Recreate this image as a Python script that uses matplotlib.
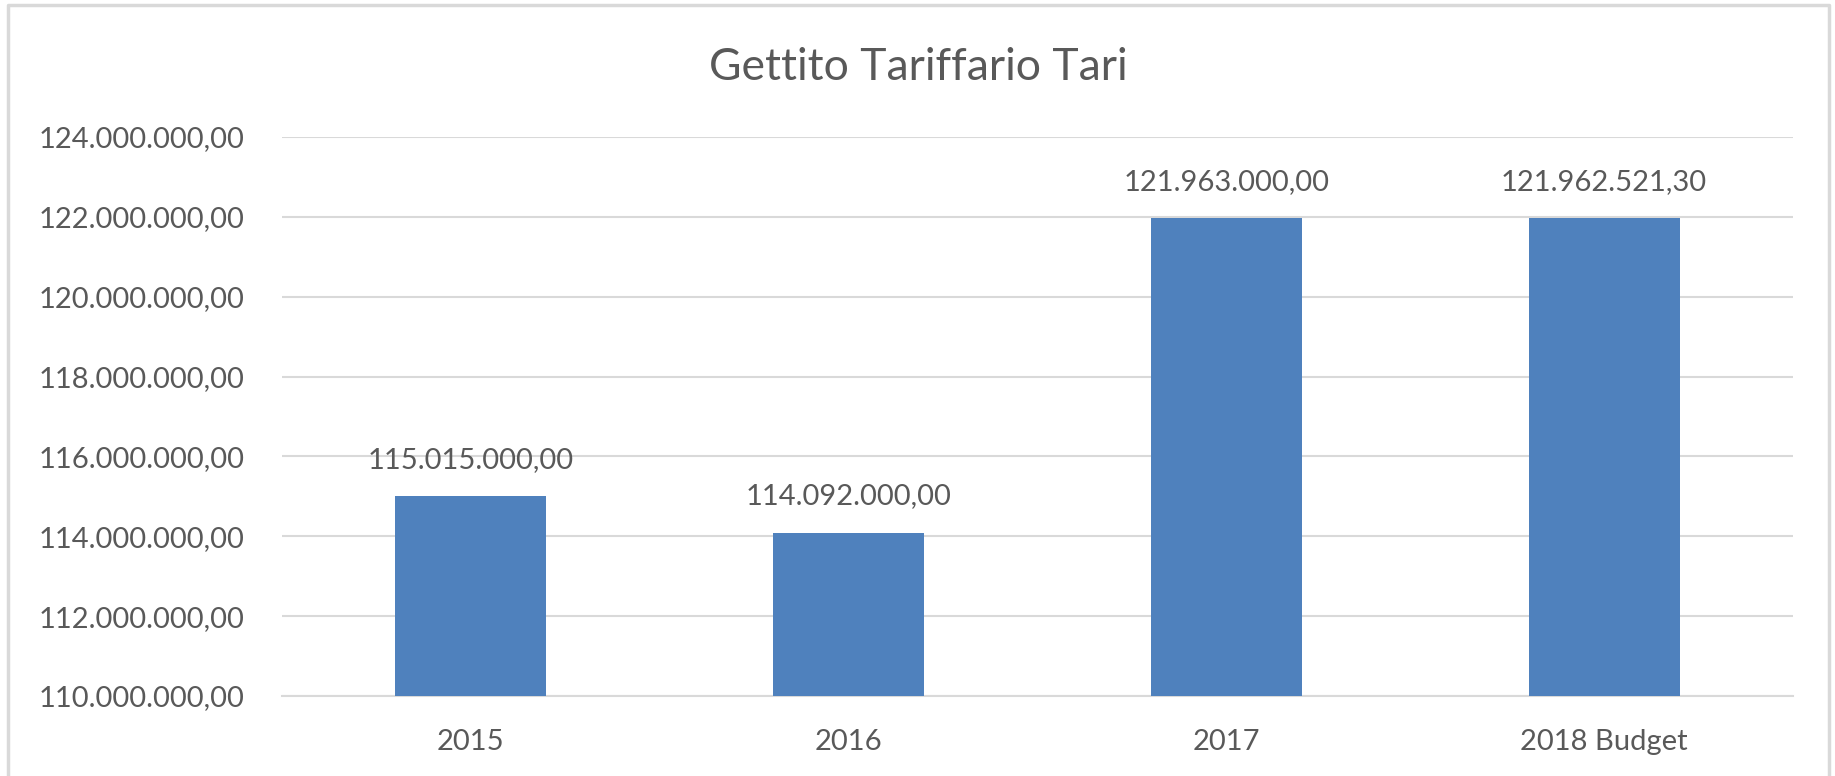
import matplotlib.pyplot as plt
from matplotlib.lines import Line2D

categories = ["2015", "2016", "2017", "2018 Budget"]
values = [115015000.00, 114092000.00, 121963000.00, 121962521.30]
y_ticks = [110000000, 112000000, 114000000, 116000000, 118000000,
           120000000, 122000000, 124000000]

TEXT = "#595959"
BAR = "#4F81BD"
GRID = "#D9D9D9"


def it_format(v):
    """Format a number the Italian way: 121.962.521,30"""
    s = f"{v:,.2f}"
    return s.replace(",", "X").replace(".", ",").replace("X", ".")


plt.rcParams['font.family'] = ['Lato', 'DejaVu Sans']

fig = plt.figure(figsize=(18.35, 7.76), dpi=100)
ax = fig.add_axes([0.1537, 0.1031, 0.8234, 0.7204])

x = range(len(categories))
bars = ax.bar(x, values, width=0.40, color=BAR, zorder=3)

ax.set_xlim(-0.5, len(categories) - 0.5)
ax.set_ylim(y_ticks[0], y_ticks[-1])
ax.set_yticks(y_ticks)
ax.set_yticklabels([it_format(t) for t in y_ticks])
ax.set_xticks(list(x))
ax.set_xticklabels(categories)

ax.tick_params(axis='y', length=0, pad=27, labelsize=21, labelcolor=TEXT)
ax.tick_params(axis='x', length=0, pad=24, labelsize=21, labelcolor=TEXT)
ax.grid(axis='y', color=GRID, linewidth=1.5, zorder=0)
for side in ['top', 'right', 'left']:
    ax.spines[side].set_visible(False)
ax.spines['bottom'].set_color(GRID)
ax.spines['bottom'].set_linewidth(1.5)

for b, v in zip(bars, values):
    ax.annotate(it_format(v), (b.get_x() + b.get_width() / 2, v),
                xytext=(0, 26), textcoords='offset points',
                ha='center', va='center', fontsize=21, color=TEXT)

fig.text(0.5003, 1 - 68 / 776, "Gettito Tariffario Tari", ha='center',
         va='center', fontsize=32, color=TEXT)

# chart frame (bottom edge lies outside the picture)
W, H = 1835, 776
fx = [8 / W, 8 / W, 1829 / W, 1829 / W]
fy = [0, 1 - 5 / H, 1 - 5 / H, 0]
fig.add_artist(Line2D(fx, fy, color=GRID, linewidth=2.5,
                      transform=fig.transFigure))

fig.savefig("out.png", dpi=100)
